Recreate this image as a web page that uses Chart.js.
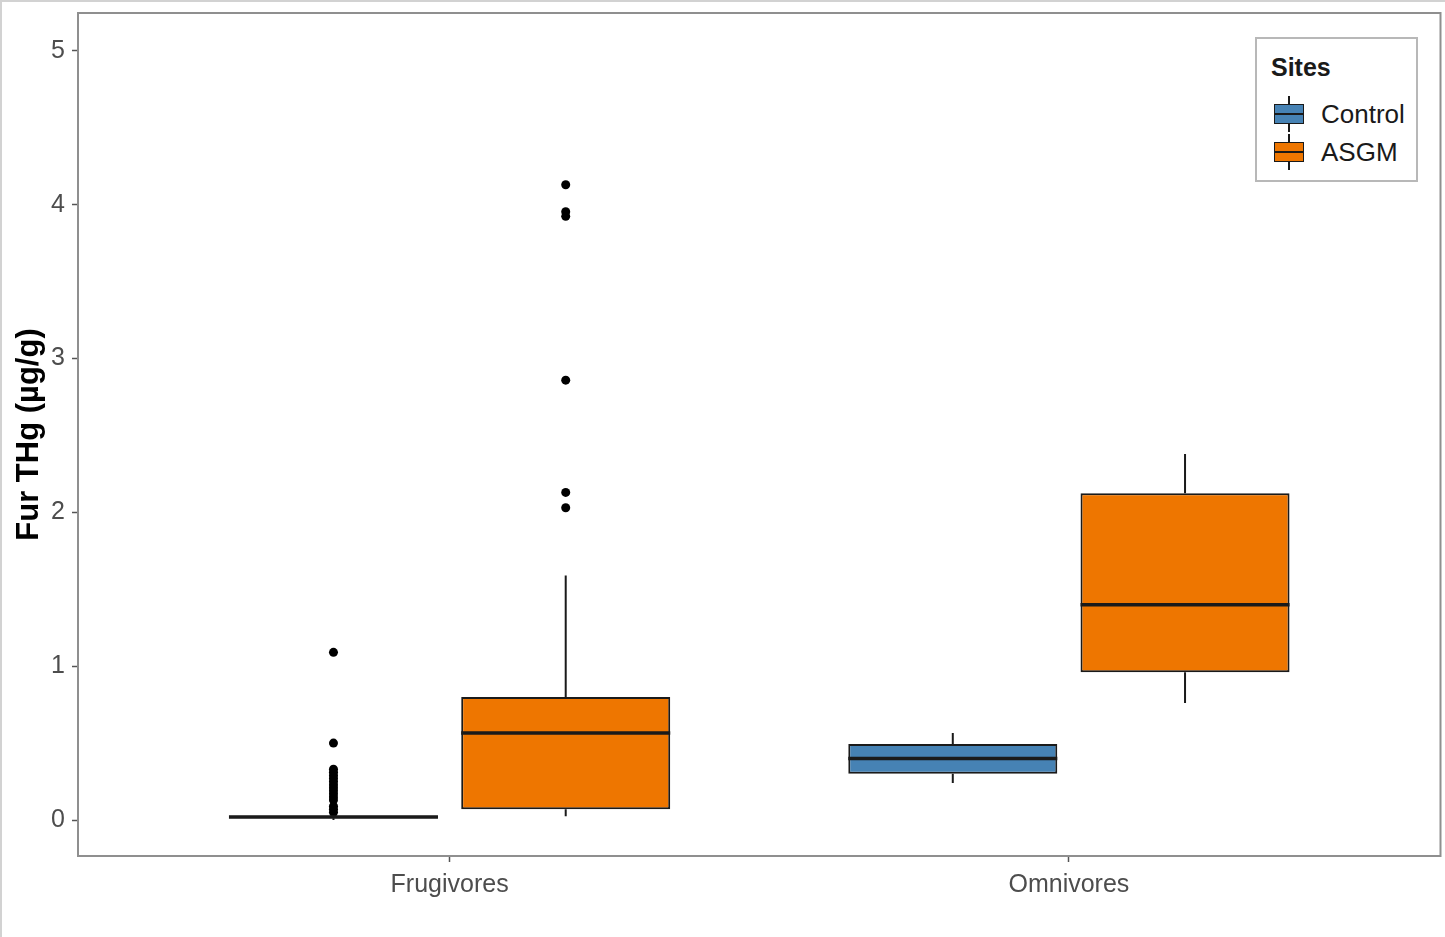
<!DOCTYPE html>
<html>
<head>
<meta charset="utf-8">
<script src="https://cdn.jsdelivr.net/npm/chart.js@4.4.0/dist/chart.umd.min.js"></script>
<style>
    html, body { margin: 0; padding: 0; background: #fff; }
    #wrap { position: relative; width: 1445px; height: 937px; }
    #frame {
        position: absolute; left: 0; top: 0; width: 1445px; height: 937px;
        box-sizing: border-box; border-left: 2px solid #d2d2d2; border-top: 2px solid #d2d2d2;
        pointer-events: none;
    }
    #legend {
        position: absolute; left: 1255px; top: 37px; width: 163px; height: 145px;
        box-sizing: border-box; border: 2px solid #b8b8b8; background: #fff;
        font-family: "Liberation Sans", Arial, sans-serif; color: #1a1a1a;
    }
    #legend .title { position: absolute; left: 14px; top: 14px; font-weight: bold; font-size: 25px; }
    #legend .item { position: absolute; left: 16px; height: 36px; width: 140px; }
    #legend .icon { position: absolute; left: 0; top: 0; width: 32px; height: 36px; }
    #legend .whisker { position: absolute; left: 15px; top: 0; width: 2px; height: 36px; background: #1a1a1a; }
    #legend .box {
        position: absolute; left: 1px; top: 8px; width: 30px; height: 20px;
        box-sizing: border-box; border: 1.5px solid #1a1a1a;
    }
    #legend .median { position: absolute; left: 1px; top: 17px; width: 30px; height: 2px; background: #1a1a1a; }
    #legend .label { position: absolute; left: 48px; top: 3px; font-size: 26px; }
</style>
</head>
<body>
<div id="wrap">
    <canvas id="chart-box"></canvas>
    <div id="legend"></div>
    <div id="frame"></div>
</div>
<script>
/**
 * Fur THg box plot, Control vs ASGM sites by feeding guild.
 * Boxes are floating bars on a linear x scale, outliers are scatter points,
 * whiskers and medians are drawn by a small plugin from the same arrays.
 */

const CATEGORIES = ['Frugivores', 'Omnivores'];
const SITES = ['Control', 'ASGM'];
const Y_TICKS = [0, 1, 2, 3, 4, 5];

const CONTROL_LOW = [0.0, 0.24];
const CONTROL_Q1 = [0.012, 0.30];
const CONTROL_MEDIAN = [0.02, 0.40];
const CONTROL_Q3 = [0.028, 0.495];
const CONTROL_HIGH = [0.04, 0.565];
const CONTROL_OUTLIERS = [
    [1.09, 0.50, 0.33, 0.31, 0.29, 0.27, 0.25, 0.23, 0.21, 0.19, 0.17, 0.15, 0.13, 0.09, 0.07, 0.05],
    [],
];

const ASGM_LOW = [0.025, 0.76];
const ASGM_Q1 = [0.07, 0.96];
const ASGM_MEDIAN = [0.565, 1.40];
const ASGM_Q3 = [0.80, 2.125];
const ASGM_HIGH = [1.59, 2.38];
const ASGM_OUTLIERS = [
    [4.13, 3.955, 3.925, 2.86, 2.13, 2.03],
    [],
];

const SITE_COLORS = {
    Control: '#4682b4',
    ASGM: '#ee7600',
};

const DODGE = 0.1875;
const INK = '#1a1a1a';
const TICK_COLOR = '#4d4d4d';
const FONT = '"Liberation Sans", Arial, sans-serif';

const SERIES = [
    { name: 'Control', low: CONTROL_LOW, q1: CONTROL_Q1, median: CONTROL_MEDIAN, q3: CONTROL_Q3, high: CONTROL_HIGH, outliers: CONTROL_OUTLIERS, shift: -DODGE },
    { name: 'ASGM', low: ASGM_LOW, q1: ASGM_Q1, median: ASGM_MEDIAN, q3: ASGM_Q3, high: ASGM_HIGH, outliers: ASGM_OUTLIERS, shift: DODGE },
];

function boxDataset(s) {
    return {
        type: 'bar',
        label: s.name,
        data: CATEGORIES.map((c, i) => ({ x: i + 1 + s.shift, y: [s.q1[i], s.q3[i]] })),
        backgroundColor: SITE_COLORS[s.name],
        borderColor: INK,
        borderWidth: 2,
        borderSkipped: false,
        grouped: false,
        categoryPercentage: 1,
        barPercentage: 0.9,
        order: 2,
    };
}

function outlierDataset(s) {
    const pts = [];
    CATEGORIES.forEach((c, i) => {
        s.outliers[i].forEach(v => pts.push({ x: i + 1 + s.shift, y: v }));
    });
    return {
        type: 'scatter',
        label: s.name + ' outliers',
        data: pts,
        backgroundColor: '#000',
        borderColor: '#000',
        pointRadius: 4.5,
        pointBorderWidth: 0,
        order: 1,
    };
}

// whiskers go under the boxes, medians on top of them
function drawBoxParts(chart, part) {
    const yScale = chart.scales.y;
    const ctx = chart.ctx;
    SERIES.forEach((s, di) => {
        const meta = chart.getDatasetMeta(di);
        meta.data.forEach((bar, i) => {
            const { x, width } = bar.getProps(['x', 'width'], true);
            ctx.save();
            ctx.strokeStyle = INK;
            ctx.beginPath();
            if (part === 'whisker') {
                ctx.lineWidth = 2;
                ctx.moveTo(x, yScale.getPixelForValue(s.q3[i]));
                ctx.lineTo(x, yScale.getPixelForValue(s.high[i]));
                ctx.moveTo(x, yScale.getPixelForValue(s.q1[i]));
                ctx.lineTo(x, yScale.getPixelForValue(s.low[i]));
            } else {
                ctx.lineWidth = 3.5;
                const my = yScale.getPixelForValue(s.median[i]);
                ctx.moveTo(x - width / 2, my);
                ctx.lineTo(x + width / 2, my);
            }
            ctx.stroke();
            ctx.restore();
        });
    });
}

const boxParts = {
    id: 'boxParts',
    beforeDatasetsDraw(chart) { drawBoxParts(chart, 'whisker'); },
    afterDatasetsDraw(chart) { drawBoxParts(chart, 'median'); },
    afterDraw(chart) {
        const { left, top, right, bottom } = chart.chartArea;
        const ctx = chart.ctx;
        ctx.save();
        ctx.strokeStyle = '#8f8f8f';
        ctx.lineWidth = 2;
        ctx.strokeRect(left, top, right - left, bottom - top);
        ctx.restore();
    },
};

function renderLegend() {
    const el = document.getElementById('legend');
    el.innerHTML = '<div class="title">Sites</div>';
    SITES.forEach((name, i) => {
        const item = document.createElement('div');
        item.className = 'item';
        item.style.top = (57 + i * 38) + 'px';
        item.innerHTML =
            '<div class="icon"><div class="whisker"></div>' +
            `<div class="box" style="background:${SITE_COLORS[name]}"></div>` +
            '<div class="median"></div></div>' +
            `<div class="label">${name}</div>`;
        el.appendChild(item);
    });
}

renderLegend();

new Chart(document.getElementById('chart-box'), {
    type: 'bar',
    data: {
        datasets: [
            ...SERIES.map(boxDataset),
            ...SERIES.map(outlierDataset),
        ],
    },
    options: {
        responsive: true,
        maintainAspectRatio: false,
        animation: false,
        layout: { padding: { top: 13, right: 3, left: 0, bottom: 0 } },
        plugins: {
            legend: { display: false },
            tooltip: { enabled: false },
        },
        scales: {
            x: {
                type: 'linear',
                min: 0.4,
                max: 2.6,
                offset: false,
                afterBuildTicks: scale => {
                    scale.ticks = CATEGORIES.map((c, i) => ({ value: i + 1 }));
                },
                afterFit: scale => {
                    scale.height = 81;
                    scale.paddingLeft = 0;
                    scale.paddingRight = 0;
                },
                ticks: {
                    color: TICK_COLOR,
                    font: { family: FONT, size: 25 },
                    padding: 8,
                    maxRotation: 0,
                    callback: val => CATEGORIES[val - 1],
                },
                grid: {
                    offset: false,
                    drawOnChartArea: false,
                    drawTicks: true,
                    tickLength: 6,
                    tickColor: '#555',
                    tickWidth: 1.5,
                },
                border: { display: false },
            },
            y: {
                type: 'linear',
                min: -0.234,
                max: 5.247,
                afterBuildTicks: scale => {
                    scale.ticks = Y_TICKS.map(v => ({ value: v }));
                },
                afterFit: scale => {
                    scale.width = 78;
                    scale.paddingTop = 0;
                    scale.paddingBottom = 0;
                },
                ticks: {
                    color: TICK_COLOR,
                    font: { family: FONT, size: 25 },
                    padding: 7,
                },
                grid: {
                    drawOnChartArea: false,
                    drawTicks: true,
                    tickLength: 6,
                    tickColor: '#555',
                    tickWidth: 1.5,
                },
                border: { display: false },
                title: {
                    display: true,
                    text: 'Fur THg (µg/g)',
                    color: '#000',
                    font: { family: FONT, size: 31, weight: 'bold' },
                    padding: { top: 11, bottom: 0 },
                },
            },
        },
    },
    plugins: [boxParts],
});
</script>
</body>
</html>
